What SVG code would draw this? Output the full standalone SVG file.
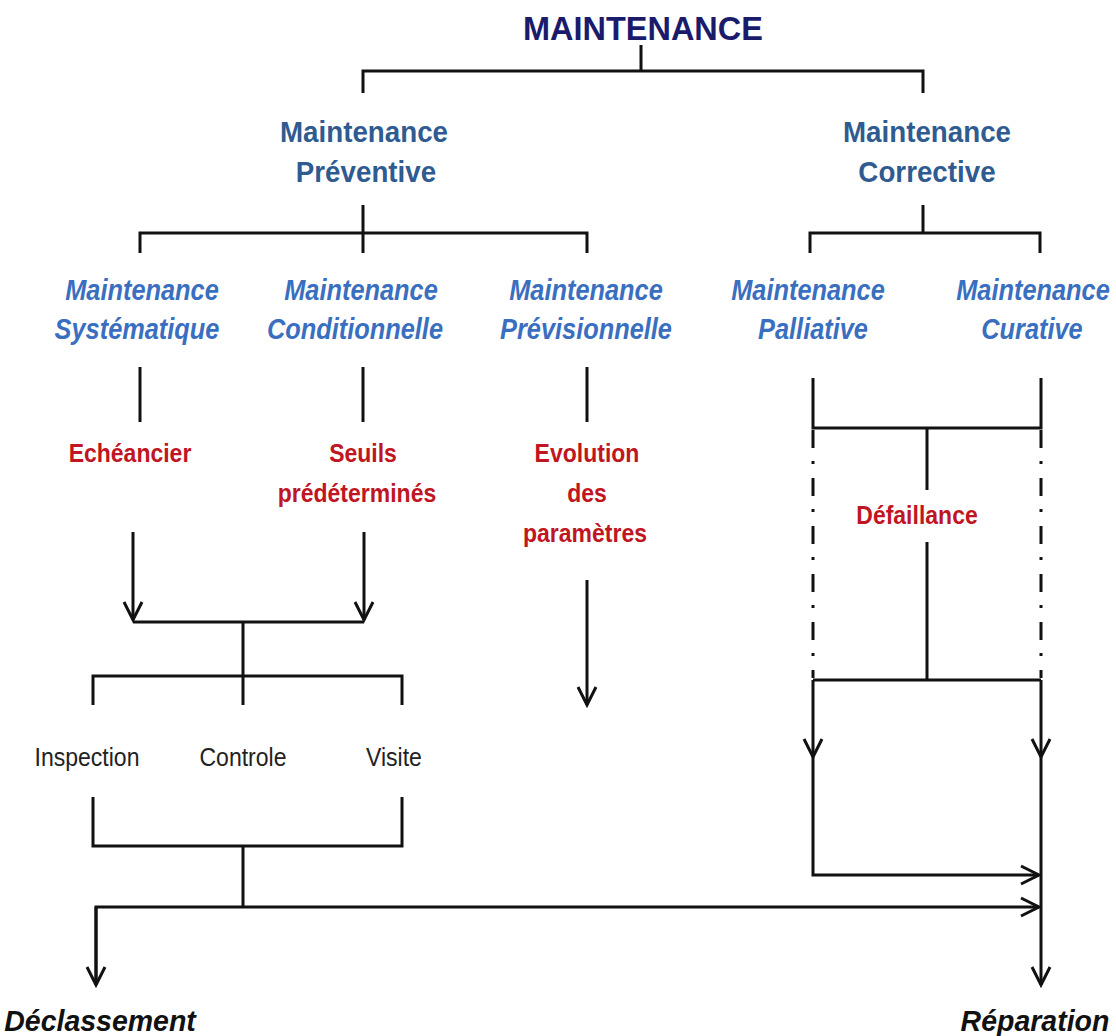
<svg xmlns="http://www.w3.org/2000/svg" width="1116" height="1036" viewBox="0 0 1116 1036">
<style>
  .ln{stroke:#111;stroke-width:3;fill:none}
  .dd{stroke:#111;stroke-width:3;fill:none;stroke-dasharray:18 13 3 14}
  .t{font-family:"Liberation Sans",Arial,sans-serif;text-anchor:middle;transform-box:fill-box;transform-origin:center}
  .title{font-size:34px;font-weight:bold;fill:#1b1b6b;transform:scaleX(0.955)}
  .l2{font-size:29px;font-weight:bold;fill:#2f5b91;transform:scaleX(0.957)}
  .l3{font-size:30px;font-weight:bold;font-style:italic;fill:#3a6fbf;transform:scaleX(0.845)}
  .red{font-size:25px;font-weight:bold;fill:#c01522;transform:scaleX(0.92)}
  .blk{font-size:26px;fill:#222;transform:scaleX(0.885)}
  .out{font-size:30px;font-weight:bold;font-style:italic;fill:#111;transform:scaleX(0.95)}
</style>
<defs>
  <marker id="arr" viewBox="-22 -12 26 24" refX="0" refY="0" markerWidth="26" markerHeight="24" markerUnits="userSpaceOnUse" orient="auto">
    <path d="M-18,-9 L0,0 L-18,9" fill="none" stroke="#111" stroke-width="3"/>
  </marker>
</defs>
<rect width="1116" height="1036" fill="#fff"/>

<g id="connectors">
  <path class="ln" d="M641,45 V71 M363,93 V71 H923 V93"/>
  <path class="ln" d="M363,205 V233 M140,253 V233 H587 V253 M363,233 V253"/>
  <path class="ln" d="M923,205 V233 M810,253 V233 H1040 V253"/>
  <path class="ln" d="M140,367 V422 M363,367 V422 M587,367 V422"/>
  <path class="ln" d="M133,532 V620" marker-end="url(#arr)"/>
  <path class="ln" d="M364,532 V620" marker-end="url(#arr)"/>
  <path class="ln" d="M133,622 H364 M243,622 V676 M93,705 V676 H402 V705 M243,676 V705"/>
  <path class="ln" d="M587,580 V705" marker-end="url(#arr)"/>
  <path class="ln" d="M93,797 V846 H402 V797 M243,846 V907"/>
  <path class="ln" d="M96,985 V907 H1039" marker-end="url(#arr)"/>
  <path class="ln" d="M96,907 V985" marker-end="url(#arr)"/>
  <path class="ln" d="M813,378 V428 H1041 V378 M927,428 V490 M927,542 V680"/>
  <path class="dd" d="M813,430 V678 M1041,430 V678"/>
  <path class="ln" d="M813,680 H1041"/>
  <path class="ln" d="M813,680 V757" marker-end="url(#arr)"/>
  <path class="ln" d="M813,755 V875 H1039" marker-end="url(#arr)"/>
  <path class="ln" d="M1041,680 V757" marker-end="url(#arr)"/>
  <path class="ln" d="M1041,755 V985" marker-end="url(#arr)"/>
</g>

<g id="n-maintenance"><text class="t title" x="643" y="40">MAINTENANCE</text></g>
<g id="n-preventive"><text class="t l2" x="364" y="142">Maintenance</text><text class="t l2" x="366" y="182">Préventive</text></g>
<g id="n-corrective"><text class="t l2" x="927" y="142">Maintenance</text><text class="t l2" x="927" y="182">Corrective</text></g>
<g id="n-systematique"><text class="t l3" x="142" y="300">Maintenance</text><text class="t l3" x="137" y="339">Systématique</text></g>
<g id="n-conditionnelle"><text class="t l3" x="361" y="300">Maintenance</text><text class="t l3" x="355" y="339">Conditionnelle</text></g>
<g id="n-previsionnelle"><text class="t l3" x="586" y="300">Maintenance</text><text class="t l3" x="586" y="339">Prévisionnelle</text></g>
<g id="n-palliative"><text class="t l3" x="808" y="300">Maintenance</text><text class="t l3" x="813" y="339">Palliative</text></g>
<g id="n-curative"><text class="t l3" x="1033" y="300">Maintenance</text><text class="t l3" x="1032" y="339">Curative</text></g>
<g id="n-echeancier"><text class="t red" x="130" y="462">Echéancier</text></g>
<g id="n-seuils"><text class="t red" x="363" y="462">Seuils</text><text class="t red" x="357" y="502">prédéterminés</text></g>
<g id="n-evolution"><text class="t red" x="587" y="462">Evolution</text><text class="t red" x="587" y="502">des</text><text class="t red" x="585" y="542">paramètres</text></g>
<g id="n-defaillance"><text class="t red" x="917" y="524">Défaillance</text></g>
<g id="n-inspection"><text class="t blk" x="87" y="766">Inspection</text></g>
<g id="n-controle"><text class="t blk" x="243" y="766">Controle</text></g>
<g id="n-visite"><text class="t blk" x="394" y="766">Visite</text></g>
<g id="n-declassement"><text class="t out" x="100" y="1031">Déclassement</text></g>
<g id="n-reparation"><text class="t out" x="1035" y="1031">Réparation</text></g>
</svg>
